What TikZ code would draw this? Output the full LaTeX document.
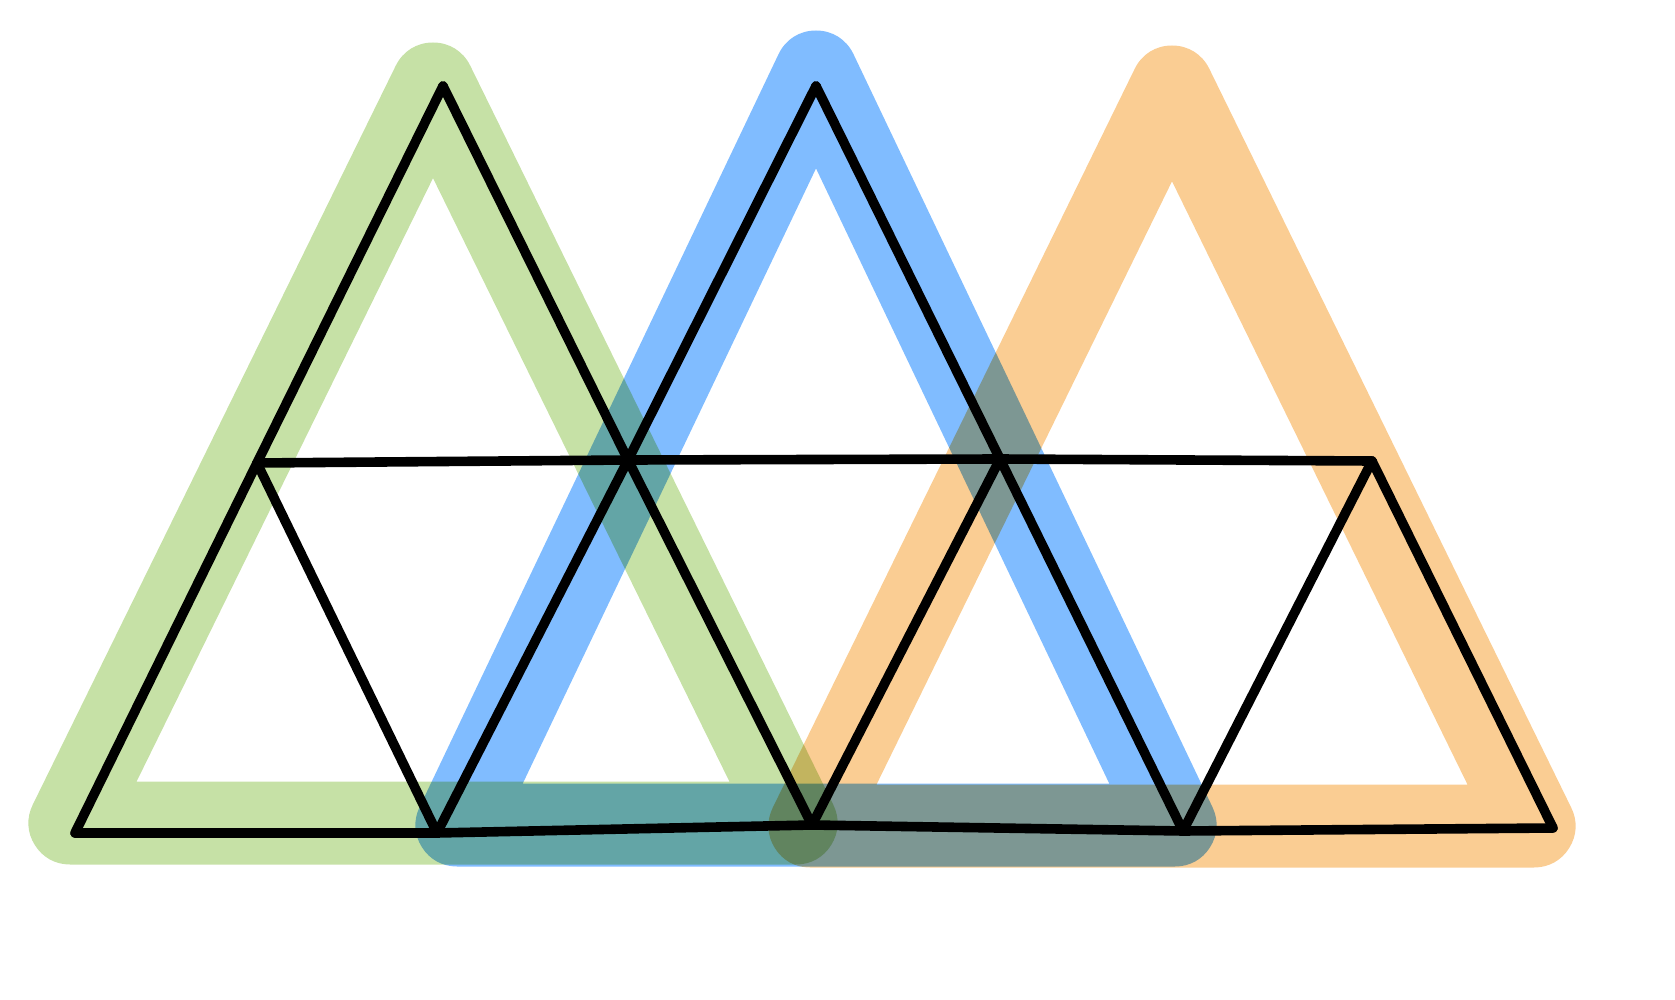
\documentclass[tikz,border=0pt]{standalone}
\definecolor{bandgreen}{RGB}{198,225,166}
\definecolor{bandblue}{RGB}{128,188,255}
\definecolor{bandorange}{RGB}{250,205,147}
\tikzset{
  band/.style={line width=41.5pt, line join=round, blend mode=multiply},
  mesh/.style={line width=4.8pt, line cap=round, line join=round, black}
}
\begin{document}
\begin{tikzpicture}[x=0.5pt, y=-0.5pt]
            \useasboundingbox (0,0) rectangle (1675,1000);

            % highlighted triangles
            \coordinate (g1) at (433,84);
            \coordinate (g2) at (70,823);
            \coordinate (g3) at (796,823);
            \coordinate (b1) at (816,72);
            \coordinate (b2) at (457,825);
            \coordinate (b3) at (1175,825);
            \coordinate (o1) at (1172,87);
            \coordinate (o2) at (810,826);
            \coordinate (o3) at (1534,826);

            \draw[band, bandgreen] (g1) -- (g2) -- (g3) -- cycle;
            \draw[band, bandblue] (b1) -- (b2) -- (b3) -- cycle;
            \draw[band, bandorange] (o1) -- (o2) -- (o3) -- cycle;

            % mesh
            \coordinate (1) at (75,833);
            \coordinate (2) at (257,463);
            \coordinate (3) at (443,86);
            \coordinate (4) at (628,460);
            \coordinate (5) at (437,833);
            \coordinate (6) at (816,86);
            \coordinate (7) at (812,825);
            \coordinate (8) at (1000,459);
            \coordinate (9) at (1183,831);
            \coordinate (10) at (1372,461);
            \coordinate (11) at (1553,828);

            \path[mesh]
            (1) edge node {} (2)
            (2) edge node {} (3)
            (1) edge node {} (5)
            (2) edge node {} (4)
            (2) edge node {} (5)
            (3) edge node {} (4)
            (4) edge node {} (5)
            (4) edge node {} (6)
            (4) edge node {} (7)
            (4) edge node {} (8)
            (5) edge node {} (7)
            (6) edge node {} (8)
            (7) edge node {} (8)
            (7) edge node {} (9)
            (8) edge node {} (9)
            (8) edge node {} (10)
            (9) edge node {} (10)
            (9) edge node {} (11)
            (10) edge node {} (11);

        \end{tikzpicture}
\end{document}
